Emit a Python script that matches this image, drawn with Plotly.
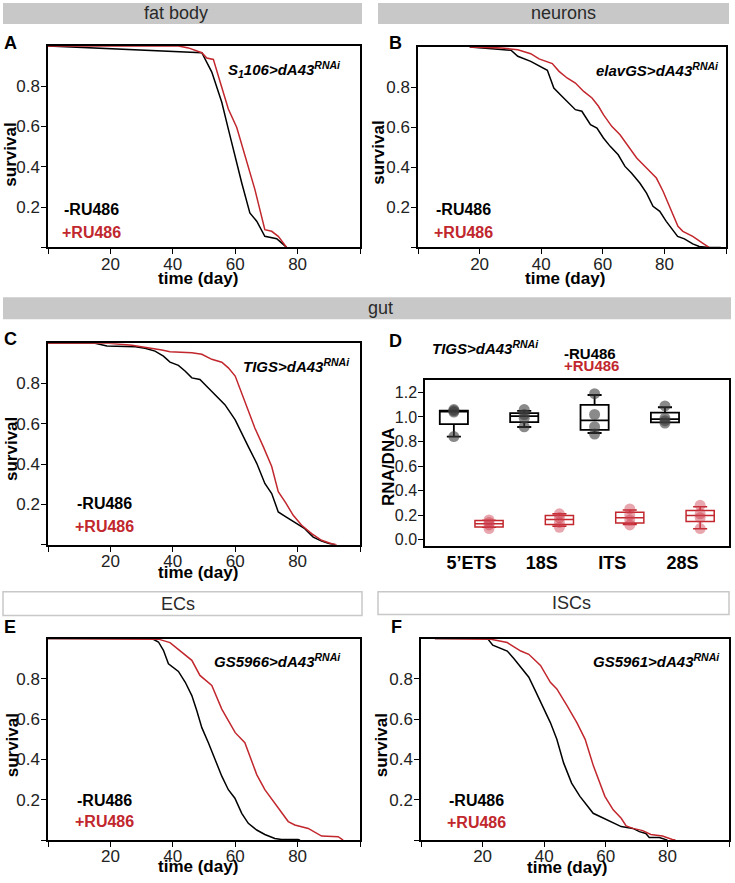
import plotly.graph_objects as go

W, H = 735, 883
def px(x): return x / W
def py(y): return 1 - y / H

RED = "#c1272d"
FONT = "Liberation Sans, Arial, sans-serif"

# ---------------- data ----------------
# Panel A  (fat body, S1106>dA43RNAi)
a_minus_day = [0, 20, 40, 49.3, 52.5, 55.7, 57.8, 59.9, 62.1, 64.7, 66.9, 69.5, 73.3, 76.5]
a_minus_surv = [1.0, 0.987, 0.975, 0.966, 0.87, 0.72, 0.587, 0.454, 0.32, 0.171, 0.13, 0.055, 0.043, 0.0]
a_plus_day = [0, 20, 41.8, 45, 49.3, 50.9, 53, 55.2, 57.8, 60.5, 63.1, 66.3, 69.5, 71.7, 73.8, 76.5]
a_plus_surv = [1.0, 1.0, 1.0, 0.99, 0.966, 0.94, 0.933, 0.82, 0.687, 0.595, 0.454, 0.288, 0.088, 0.08, 0.055, 0.0]

# Panel B  (neurons, elavGS>dA43RNAi)
b_minus_day = [16.8, 24.9, 30.2, 32.4, 36.6, 42, 44.1, 46.8, 49, 51.1, 53.2, 56, 58.1, 60.2, 62.4, 65, 67.2,
               69.3, 72, 74.2, 76.3, 78.5, 80.6, 82.7, 84.3, 86.5, 89.2, 91.3, 94.5, 98.3]
b_minus_surv = [1.0, 0.99, 0.983, 0.953, 0.928, 0.883, 0.795, 0.753, 0.72, 0.687, 0.679, 0.612, 0.595, 0.546,
                0.504, 0.462, 0.404, 0.371, 0.321, 0.271, 0.205, 0.18, 0.13, 0.088, 0.055, 0.043, 0.018, 0.005, 0.0, 0.0]
b_plus_day = [16.8, 27, 32.4, 36.6, 39.3, 43.6, 45.8, 48.4, 51.1, 53.8, 56.5, 58.6, 60.2, 62.9, 65.6, 68.3, 71,
              74.2, 77.4, 79.6, 81.7, 84.4, 86, 89.2, 92.4, 94.5]
b_plus_surv = [1.0, 0.995, 0.986, 0.966, 0.94, 0.917, 0.878, 0.845, 0.82, 0.778, 0.745, 0.704, 0.662, 0.604,
               0.562, 0.504, 0.446, 0.396, 0.346, 0.279, 0.205, 0.105, 0.08, 0.055, 0.022, 0.0]

# Panel C  (gut, TIGS>dA43RNAi)
c_minus_day = [0, 15.1, 18.9, 28, 31.1, 34.3, 37, 39.1, 41.8, 44, 46.1, 48.7, 51.4, 54.1, 56.7, 60, 62, 64.2,
               66.9, 69.5, 71.7, 73.8, 76, 79.1, 82.3, 85, 87.7, 90.3, 92]
c_minus_surv = [1.0, 1.0, 0.986, 0.983, 0.975, 0.961, 0.936, 0.906, 0.89, 0.861, 0.828, 0.82, 0.778, 0.737,
                0.695, 0.62, 0.554, 0.487, 0.404, 0.304, 0.254, 0.163, 0.141, 0.113, 0.08, 0.038, 0.018, 0.005, 0.0]
c_plus_day = [0, 19.4, 26.9, 32.2, 36.5, 39.1, 42.9, 46.1, 49.3, 52.5, 55.7, 57.8, 60, 62.1, 64.2, 66.3, 69,
              71.7, 73.8, 76, 78.6, 81.3, 84.5, 87.7, 90.9, 92.5]
c_plus_surv = [1.0, 1.0, 0.99, 0.978, 0.966, 0.958, 0.956, 0.953, 0.945, 0.92, 0.906, 0.878, 0.837, 0.753,
               0.67, 0.579, 0.487, 0.388, 0.263, 0.213, 0.146, 0.097, 0.055, 0.022, 0.005, 0.0]

# Panel D  (RNA/DNA)
d_categories = ["5\u2019ETS", "18S", "ITS", "28S"]
d_minus_pos = [1, 3, 5, 7]
d_plus_pos = [2, 4, 6, 8]
d_minus_points = [[1.06, 1.05, 1.04, 0.84], [1.06, 1.02, 0.99, 0.92],
                  [1.19, 1.02, 0.92, 0.86], [1.09, 0.99, 0.97, 0.95]]
d_plus_points = [[0.16, 0.14, 0.12, 0.09], [0.21, 0.18, 0.14, 0.10],
                 [0.25, 0.20, 0.16, 0.12], [0.28, 0.21, 0.18, 0.09]]
d_minus_q1 = [0.942, 0.958, 0.894, 0.956]
d_minus_med = [1.05, 1.007, 0.972, 0.982]
d_minus_q3 = [1.052, 1.031, 1.098, 1.036]
d_minus_lo = [0.84, 0.918, 0.869, 0.956]
d_minus_hi = [1.052, 1.05, 1.179, 1.079]
d_plus_q1 = [0.102, 0.124, 0.135, 0.148]
d_plus_med = [0.129, 0.164, 0.178, 0.197]
d_plus_q3 = [0.156, 0.197, 0.223, 0.237]
d_plus_lo = [0.10, 0.11, 0.124, 0.089]
d_plus_hi = [0.158, 0.21, 0.242, 0.269]

# Panel E  (ECs, GS5966>dA43RNAi)
e_minus_day = [0, 33.3, 35.4, 37, 38.6, 41.8, 44, 46.1, 47.7, 49.3, 51.4, 53.5, 55.7, 57.8, 59.9, 62.1, 64.2,
               66.9, 69.5, 72.7, 74.8, 80.2, 80.8]
e_minus_surv = [1.0, 1.0, 0.983, 0.942, 0.875, 0.837, 0.783, 0.717, 0.642, 0.558, 0.483, 0.4, 0.317, 0.25,
                0.208, 0.133, 0.083, 0.05, 0.028, 0.008, 0.003, 0.003, 0.0]
e_plus_day = [0, 31.1, 35.4, 39.1, 42.9, 46.1, 48.7, 52.5, 55.7, 60, 63.1, 66.9, 69.5, 73.8, 77, 79.1, 83.4,
              87.7, 93, 94.6]
e_plus_surv = [1.0, 1.0, 0.997, 0.98, 0.93, 0.892, 0.817, 0.767, 0.65, 0.533, 0.483, 0.325, 0.25, 0.158,
               0.092, 0.075, 0.058, 0.02, 0.017, 0.0]

# Panel F  (ISCs, GS5961>dA43RNAi)
f_minus_day = [4.5, 21.6, 23.3, 28, 30.2, 35, 37.1, 39.3, 42, 44.1, 46.3, 48.9, 51.6, 55.9, 60.2, 65, 68.8,
               70.9, 73, 74.1, 77.4, 80]
f_minus_surv = [1.0, 1.0, 0.967, 0.938, 0.9, 0.808, 0.742, 0.667, 0.583, 0.5, 0.383, 0.283, 0.217, 0.133,
                0.1, 0.067, 0.058, 0.042, 0.033, 0.013, 0.013, 0.0]
f_plus_day = [4.5, 22.7, 28, 32.4, 35, 38.8, 42, 44.1, 47.4, 50.6, 53.3, 56, 59.7, 62.4, 65, 66.6, 68.8, 72,
              74.6, 78.4, 81.6, 82.6]
f_plus_surv = [1.0, 0.997, 0.98, 0.938, 0.922, 0.867, 0.783, 0.75, 0.667, 0.583, 0.5, 0.367, 0.217, 0.15,
               0.108, 0.07, 0.058, 0.047, 0.028, 0.02, 0.003, 0.0]

x_tickvals = [20, 40, 60, 80]
x_ticktext = ["20", "40", "60", "80"]
x_minor_ticks = [0, 100]
y_tickvals = [0.2, 0.4, 0.6, 0.8]
y_ticktext = ["0.2", "0.4", "0.6", "0.8"]
y_minor_ticks = [0]
d_tickvals = [0.0, 0.2, 0.4, 0.6, 0.8, 1.0, 1.2]
d_ticktext = ["0.0", "0.2", "0.4", "0.6", "0.8", "1.0", "1.2"]

# ---------------- figure ----------------
fig = go.Figure()

panels = [
    ("", a_minus_day, a_minus_surv, a_plus_day, a_plus_surv),
    ("2", b_minus_day, b_minus_surv, b_plus_day, b_plus_surv),
    ("3", c_minus_day, c_minus_surv, c_plus_day, c_plus_surv),
    ("5", e_minus_day, e_minus_surv, e_plus_day, e_plus_surv),
    ("6", f_minus_day, f_minus_surv, f_plus_day, f_plus_surv),
]
for n, md, ms, pd_, ps in panels:
    fig.add_trace(go.Scatter(x=md, y=ms, mode="lines", line=dict(color="black", width=1.5),
                             xaxis="x" + n, yaxis="y" + n, showlegend=False))
    fig.add_trace(go.Scatter(x=pd_, y=ps, mode="lines", line=dict(color=RED, width=1.5),
                             xaxis="x" + n, yaxis="y" + n, showlegend=False))

# panel D boxes + points
fig.add_trace(go.Box(x=d_minus_pos, q1=d_minus_q1, median=d_minus_med, q3=d_minus_q3,
                     lowerfence=d_minus_lo, upperfence=d_minus_hi, width=0.8, whiskerwidth=0.5,
                     line=dict(color="black", width=1.8), fillcolor="rgba(255,255,255,0)",
                     xaxis="x4", yaxis="y4", showlegend=False, boxpoints=False))
fig.add_trace(go.Box(x=d_plus_pos, q1=d_plus_q1, median=d_plus_med, q3=d_plus_q3,
                     lowerfence=d_plus_lo, upperfence=d_plus_hi, width=0.8, whiskerwidth=0.5,
                     line=dict(color=RED, width=1.5), fillcolor="rgba(255,255,255,0)",
                     xaxis="x4", yaxis="y4", showlegend=False, boxpoints=False))
mx, my, rx, ry = [], [], [], []
for p, vals in zip(d_minus_pos, d_minus_points):
    mx += [p] * len(vals); my += vals
for p, vals in zip(d_plus_pos, d_plus_points):
    rx += [p] * len(vals); ry += vals
fig.add_trace(go.Scatter(x=mx, y=my, mode="markers", marker=dict(size=11, color="rgba(60,60,60,0.6)"),
                         xaxis="x4", yaxis="y4", showlegend=False))
fig.add_trace(go.Scatter(x=rx, y=ry, mode="markers", marker=dict(size=11, color="rgba(205,60,75,0.45)"),
                         xaxis="x4", yaxis="y4", showlegend=False))

common_axis = dict(showline=True, mirror=True, linecolor="black", linewidth=1.5, showgrid=False,
                   zeroline=False, ticks="outside", ticklen=5, tickwidth=1.2, tickcolor="black",
                   tickfont=dict(family=FONT, size=17, color="#222"))

def surv_axes(n, x0, x1, y0, y1):
    xa = dict(common_axis, domain=[px(x0), px(x1)], range=[0, 100], tickvals=x_tickvals,
              ticktext=x_ticktext, anchor="y" + n, ticklabelstandoff=-5,
              minor=dict(tickvals=x_minor_ticks, ticks="outside", ticklen=5, tickwidth=1.2,
                         tickcolor="black", showgrid=False))
    ya = dict(common_axis, domain=[py(y1), py(y0)], range=[0, 1.0], tickvals=y_tickvals,
              ticktext=y_ticktext, anchor="x" + n, ticklabelstandoff=-2,
              minor=dict(tickvals=y_minor_ticks, ticks="outside", ticklen=5, tickwidth=1.2,
                         tickcolor="black", showgrid=False))
    return xa, ya

layout_axes = {}
for n, box in [("", (48, 360, 46, 248)), ("2", (418, 726, 47, 248)), ("3", (48, 360, 344, 546)),
               ("5", (48, 360, 640, 842)), ("6", (421, 729, 640, 842))]:
    xa, ya = surv_axes(n, *box)
    layout_axes["xaxis" + n] = xa
    layout_axes["yaxis" + n] = ya

layout_axes["xaxis4"] = dict(common_axis, domain=[px(425), px(729)], range=[0.18, 8.82],
                             tickvals=[1.5, 3.5, 5.5, 7.5], ticktext=d_categories, ticks="",
                             tickfont=dict(family=FONT, size=18, color="black", weight="bold"),
                             anchor="y4")
layout_axes["yaxis4"] = dict(common_axis, domain=[py(547), py(381)], range=[-0.05, 1.3],
                             tickvals=d_tickvals, ticktext=d_ticktext, anchor="x4", ticklabelstandoff=-2,
                             tickfont=dict(family=FONT, size=16, color="#222"))

fig.update_layout(**layout_axes)

shapes = []
annotations = []

def header(x0, x1, y0, y1, text, cx, filled=True):
    shapes.append(dict(type="rect", xref="paper", yref="paper", x0=px(x0), x1=px(x1), y0=py(y1), y1=py(y0),
                       fillcolor="#c8c8c8" if filled else "white",
                       line=dict(color="#c8c8c8", width=0 if filled else 1.5), layer="below"))
    annotations.append(dict(xref="paper", yref="paper", x=px(cx), y=py((y0 + y1) / 2), text=text,
                            showarrow=False, xanchor="center", yanchor="middle",
                            font=dict(family=FONT, size=18, color="#2a2a2a")))

header(3, 362, 3, 24, "fat body", 176)
header(378, 729, 3, 24, "neurons", 563)
header(3, 731, 298, 320, "gut", 380)
header(3, 362, 593, 617, "ECs", 178, filled=False)
header(378, 729, 593, 616, "ISCs", 571, filled=False)

def txt(x, y, text, size, color="black", xanchor="left", angle=0):
    annotations.append(dict(xref="paper", yref="paper", x=px(x), y=py(y), text=text, showarrow=False,
                            xanchor=xanchor, yanchor="middle", textangle=angle,
                            font=dict(family=FONT, size=size, color=color, weight="bold")))

# panel letters
for letter, x, y in [("A", 2, 43), ("B", 387, 43), ("C", 2, 340), ("D", 387, 342), ("E", 2, 628), ("F", 389, 628)]:
    txt(x, y, letter, 18)

# axis titles
for cx, cy in [(198, 279), (565, 279), (198, 574), (198, 868), (567, 869)]:
    txt(cx, cy, "time (day)", 17, xanchor="center")
for cx, cy in [(11, 155), (379, 153), (12, 450), (12, 747), (381, 747)]:
    txt(cx, cy, "survival", 17, xanchor="center", angle=-90)
txt(389, 468, "RNA/DNA", 17, xanchor="center", angle=-90)

# genotype labels
txt(343, 70, "<i>S<sub>1</sub>106>dA43<sup>RNAi</sup></i>", 15, xanchor="right")
txt(721, 70, "<i>elavGS>dA43<sup>RNAi</sup></i>", 15, xanchor="right")
txt(352, 366, "<i>TIGS>dA43<sup>RNAi</sup></i>", 15, xanchor="right")
txt(430, 348, "<i>TIGS>dA43<sup>RNAi</sup></i>", 15, xanchor="left")
txt(343, 662, "<i>GS5966>dA43<sup>RNAi</sup></i>", 15, xanchor="right")
txt(722, 662, "<i>GS5961>dA43<sup>RNAi</sup></i>", 15, xanchor="right")

# treatment labels
for x, y1, y2 in [(62, 210, 233), (434, 210, 233), (75, 505, 528), (75, 802, 823), (447, 802, 824)]:
    txt(x, y1, "-RU486", 16)
    txt(x - 2, y2, "+RU486", 16, color=RED)
txt(562, 354, "-RU486", 15)
txt(562, 366, "+RU486", 15, color=RED)

fig.update_layout(width=W, height=H, margin=dict(l=0, r=0, t=0, b=0), plot_bgcolor="white",
                  paper_bgcolor="white", shapes=shapes, annotations=annotations,
                  font=dict(family=FONT), showlegend=False)

fig.write_html("out.html", config={"displayModeBar": False},
               post_script="document.body.style.margin='0px';document.body.style.overflow='hidden';")
